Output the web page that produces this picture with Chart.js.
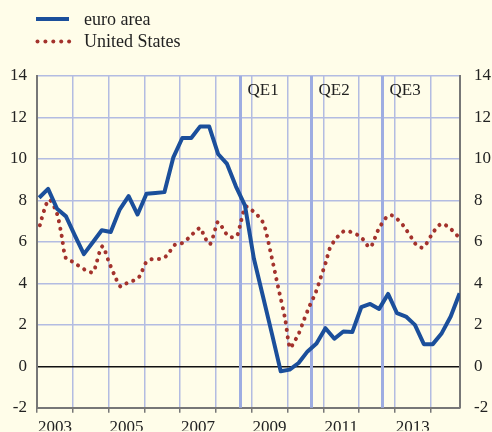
<!DOCTYPE html>
<html>
<head>
<meta charset="utf-8">
<script src="https://cdn.jsdelivr.net/npm/chart.js@4"></script>
<style>
  html, body { margin: 0; padding: 0; background: #fffde9; }
  #wrap { width: 492px; height: 432px; }
</style>
</head>
<body>
<div id="wrap"><canvas id="chart" width="492" height="432"></canvas></div>
<script>
// euro area: quarterly, 2003Q1 .. 2014Q4
var euroStart = 2003;
var euroValues = [8.13, 8.56, 7.6, 7.23, 6.3, 5.41, 5.98, 6.56, 6.48, 7.56, 8.21, 7.32,
  8.32, 8.36, 8.4, 10.08, 11.01, 11.01, 11.57, 11.57, 10.24, 9.76, 8.67, 7.76,
  5.2, 3.4, 1.6, -0.24, -0.16, 0.16, 0.72, 1.1, 1.84, 1.33, 1.68, 1.65,
  2.85, 3.01, 2.77, 3.49, 2.56, 2.4, 2.0, 1.07, 1.07, 1.6, 2.4, 3.52];

// United States (decimal years)
var usDates = [2003.08, 2003.2, 2003.34, 2003.55, 2003.69, 2003.81, 2004.0, 2004.18, 2004.36, 2004.56,
  2004.64, 2004.76, 2004.84, 2004.99, 2005.16, 2005.34, 2005.53, 2005.73, 2005.87, 2006.06,
  2006.25, 2006.46, 2006.62, 2006.87, 2007.07, 2007.25, 2007.39, 2007.57, 2007.66, 2007.83,
  2007.98, 2008.05, 2008.14, 2008.25, 2008.39, 2008.58, 2008.7, 2008.83, 2008.98, 2009.14,
  2009.28, 2009.37, 2009.56, 2009.74, 2009.93, 2010.07, 2010.18, 2010.3, 2010.46, 2010.61,
  2010.79, 2010.93, 2011.07, 2011.18, 2011.3, 2011.44, 2011.6, 2011.82, 2012.0, 2012.16,
  2012.28, 2012.37, 2012.53, 2012.77, 2012.91, 2013.08, 2013.23, 2013.48, 2013.59, 2013.79,
  2014.03, 2014.15, 2014.31, 2014.49, 2014.65, 2014.79];
var usValues = [6.8, 7.52, 8.04, 7.41, 6.29, 5.2, 5.04, 4.83, 4.64, 4.53,
  4.85, 5.57, 5.79, 5.12, 4.42, 3.84, 4.03, 4.16, 4.35, 5.04,
  5.18, 5.18, 5.33, 5.89, 5.95, 6.21, 6.45, 6.67, 6.32, 5.89,
  6.61, 6.96, 6.8, 6.48, 6.24, 6.27, 6.99, 7.7, 7.56, 7.32,
  7.04, 6.69, 5.25, 3.81, 2.32, 0.88, 1.17, 1.52, 2.24, 2.88,
  3.57, 4.29, 5.01, 5.68, 6.03, 6.32, 6.53, 6.45, 6.29, 6.03,
  5.73, 5.88, 6.56, 7.2, 7.28, 7.08, 6.8, 6.16, 5.88, 5.73,
  6.35, 6.64, 6.88, 6.72, 6.48, 6.21];

var qeDates = [2008.66, 2010.65, 2012.65];
var qeLabels = ['QE1', 'QE2', 'QE3'];

var seriesNames = ['euro area', 'United States'];
var yTicks = [-2, 0, 2, 4, 6, 8, 10, 12, 14];

var BLUE = '#1b4f9b', RED = '#a3322c', GRID = '#b3bce2', QE = '#9eade2', AXIS = '#777', TEXT = '#222';
var FONT = "'Liberation Serif', 'Times New Roman', serif";

var euroData = euroValues.map(function (v, i) {
  return { x: euroStart + i * 0.25 + 0.06, y: v };
});
var usData = usDates.map(function (d, i) {
  return { x: d, y: usValues[i] };
});

var extras = {
  id: 'extras',
  beforeDraw: function (chart) {
    var ctx = chart.ctx;
    ctx.save();
    ctx.fillStyle = '#fffde9';
    ctx.fillRect(0, 0, chart.width, chart.height);
    ctx.restore();
  },
  beforeDatasetsDraw: function (chart) {
    var ctx = chart.ctx, area = chart.chartArea, xs = chart.scales.x;
    ctx.save();
    ctx.strokeStyle = QE;
    ctx.lineWidth = 3;
    ctx.fillStyle = TEXT;
    ctx.font = '17px ' + FONT;
    ctx.textBaseline = 'alphabetic';
    qeDates.forEach(function (d, i) {
      var px = Math.round(xs.getPixelForValue(d)) + 0.5;
      ctx.beginPath();
      ctx.moveTo(px, area.top);
      ctx.lineTo(px, area.bottom);
      ctx.stroke();
      ctx.fillText(qeLabels[i], px + 7, area.top + 19);
    });
    ctx.restore();
  },
  afterDraw: function (chart) {
    var ctx = chart.ctx;
    ctx.save();
    // legend
    ctx.strokeStyle = BLUE;
    ctx.lineWidth = 4;
    ctx.beginPath();
    ctx.moveTo(36, 19);
    ctx.lineTo(69, 19);
    ctx.stroke();
    ctx.fillStyle = RED;
    for (var k = 0; k < 5; k++) {
      ctx.beginPath();
      ctx.arc(37.5 + k * 7.9, 41.5, 2, 0, Math.PI * 2);
      ctx.fill();
    }
    ctx.fillStyle = TEXT;
    ctx.font = '18px ' + FONT;
    ctx.textBaseline = 'alphabetic';
    ctx.fillText(seriesNames[0], 84, 25);
    ctx.fillText(seriesNames[1], 84, 47);
    ctx.restore();
  }
};

var ctx = document.getElementById('chart').getContext('2d');
var myChart = new Chart(ctx, {
  type: 'line',
  data: {
    datasets: [
      {
        label: seriesNames[0],
        data: euroData,
        borderColor: BLUE,
        borderWidth: 4,
        pointRadius: 0,
        tension: 0,
        borderJoinStyle: 'round'
      },
      {
        label: seriesNames[1],
        data: usData,
        borderColor: RED,
        borderWidth: 4,
        borderDash: [0.1, 7.3],
        borderCapStyle: 'round',
        pointRadius: 0,
        tension: 0.3
      }
    ]
  },
  options: {
    responsive: false,
    animation: false,
    devicePixelRatio: 1,
    layout: { padding: { top: 76, left: 0, right: 0, bottom: 0 } },
    plugins: {
      legend: { display: false },
      tooltip: { enabled: false }
    },
    scales: {
      x: {
        type: 'linear',
        min: 2003,
        max: 2014.82,
        afterFit: function (s) { s.height = 23; },
        afterBuildTicks: function (s) {
          s.ticks = [];
          for (var y = 2003; y <= 2014; y++) s.ticks.push({ value: y });
        },
        ticks: {
          autoSkip: false,
          maxRotation: 0,
          padding: 5,
          labelOffset: 17.9,
          color: TEXT,
          font: { family: FONT, size: 17 },
          callback: function (v) { return (v % 2 === 1) ? String(v) : ''; }
        },
        grid: {
          color: GRID,
          lineWidth: 1.5,
          drawTicks: true,
          tickLength: 5,
          tickColor: AXIS,
          tickWidth: 1.5
        },
        border: { color: AXIS, width: 2 }
      },
      y: {
        position: 'left',
        min: -2,
        max: 14,
        afterFit: function (s) { s.width = 37; },
        afterBuildTicks: function (s) {
          s.ticks = yTicks.map(function (v) { return { value: v }; });
        },
        ticks: {
          padding: 10,
          color: TEXT,
          font: { family: FONT, size: 17 }
        },
        grid: {
          drawTicks: false,
          lineWidth: 1.5,
          color: function (c) { return c.tick && c.tick.value === 0 ? '#111' : GRID; }
        },
        border: { color: AXIS, width: 2 }
      },
      y2: {
        position: 'right',
        min: -2,
        max: 14,
        afterFit: function (s) { s.width = 32; },
        afterBuildTicks: function (s) {
          s.ticks = yTicks.map(function (v) { return { value: v }; });
        },
        ticks: {
          padding: 14,
          color: TEXT,
          font: { family: FONT, size: 17 }
        },
        grid: { display: false, drawTicks: false },
        border: { color: AXIS, width: 2 }
      }
    }
  },
  plugins: [extras]
});
</script>
</body>
</html>
